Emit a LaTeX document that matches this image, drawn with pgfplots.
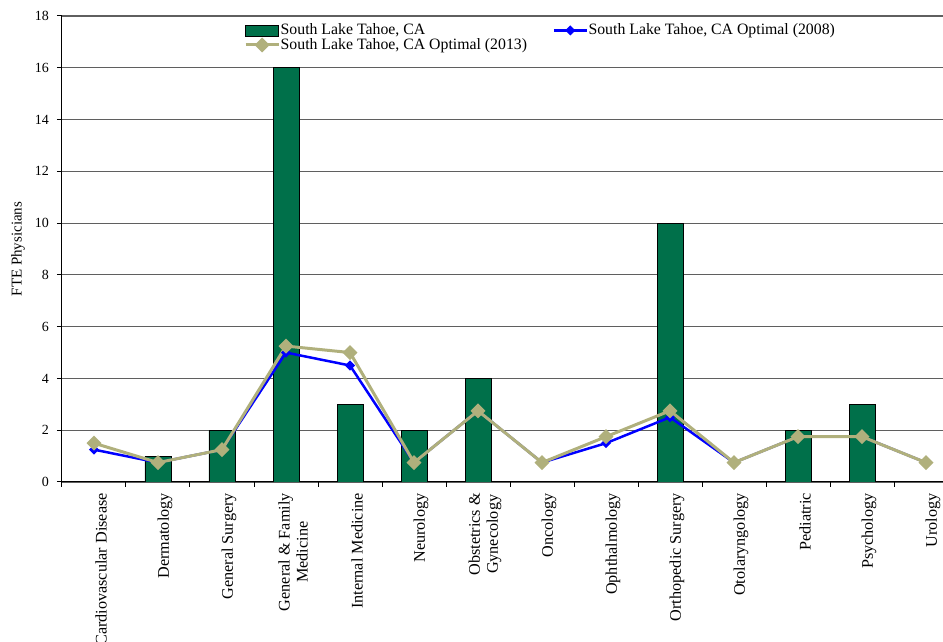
\documentclass[border=0pt]{standalone}
\usepackage{fontspec}
\setmainfont{Liberation Serif}
\usepackage{pgfplots}
\pgfplotsset{compat=1.18}
\usetikzlibrary{calc}

\definecolor{bargreen}{RGB}{0,112,74}
\definecolor{opt2013}{RGB}{176,176,124}
\definecolor{opt2008}{RGB}{0,0,255}
\definecolor{gridgray}{RGB}{95,95,95}

\pgfplotsset{
  long line legend/.style={
    legend image code/.code={\draw[mark repeat=2, mark phase=2, ##1]
      plot coordinates {(0pt,0pt) (16.5pt,0pt) (33pt,0pt)};}},
  green box legend/.style={
    legend image code/.code={\draw[fill=bargreen, draw=black, line width=0.8pt]
      (0pt,-5.5pt) rectangle (33pt,5.5pt);}},
}

\begin{document}
\fontsize{15}{17}\selectfont
\begin{tikzpicture}
\begin{axis}[
  name=ax,
  scale only axis,
  width=896pt, height=466pt,
  xmin=-0.5, xmax=13.5,
  ymin=0, ymax=18,
  axis x line=bottom, axis y line=left,
  axis line style={-, black, line width=1pt},
  ytick={0,2,...,18},
  ymajorgrids,
  major grid style={draw=gridgray, line width=1.2pt},
  xtick={0,...,13},
  xticklabels={Cardiovascular Disease, Dermatology, General Surgery,
    {General \& Family\\Medicine}, Internal Medicine, Neurology,
    {Obstetrics \&\\Gynecology}, Oncology, Ophthalmology, Orthopedic Surgery,
    Otolaryngology, Pediatric, Psychology, Urology},
  minor xtick={-0.5,0.5,...,13.5},
  major tick length=5pt, minor tick length=5pt,
  tick style={black, line width=1pt},
  major x tick style={draw=none},
  tick align=outside,
  /pgf/number format/assume math mode=true,
  xticklabel style={rotate=90, anchor=east, align=center,
    font=\fontsize{16.2}{18}\selectfont, yshift=-7pt, xshift=-1pt},
  yticklabel style={font=\fontsize{14}{15}\selectfont, xshift=-3pt},
  ylabel={FTE Physicians},
  ylabel style={at={(axis description cs:-0.049,0.5)}, anchor=center,
    font=\fontsize{15}{17}\selectfont},
  legend columns=2,
  legend cell align=left,
  legend style={at={(axis description cs:0.2031,0.985)}, anchor=north west,
    draw=none, fill=none, inner sep=0pt,
    font=\fontsize{15.8}{15}\selectfont,
    nodes={inner sep=0.5pt, text height=11pt, text depth=2.5pt},
    row sep=0pt,
    /tikz/every even column/.append style={column sep=25pt}},
]
% staffed FTE physicians per specialty (zero-staffed specialties have no bar)
\addplot[ybar, bar width=26pt, fill=bargreen, draw=black, line width=0.8pt,
  green box legend]
  coordinates {(1,1) (2,2) (3,16) (4,3) (5,2) (6,4) (9,10) (11,2) (12,3)};
\addlegendentry{South Lake Tahoe, CA}

% optimal staffing, 2008
\addplot[opt2008, line width=2.5pt, mark=square*, mark size=2.3pt,
  mark options={rotate=45, solid}, long line legend]
  coordinates {(0,1.25) (1,0.75) (2,1.25) (3,5.0) (4,4.5) (5,0.75) (6,2.75)
    (7,0.75) (8,1.5) (9,2.5) (10,0.75) (11,1.75) (12,1.75) (13,0.75)};
\addlegendentry{South Lake Tahoe, CA Optimal (2008)}

% optimal staffing, 2013
\addplot[opt2013, line width=3pt, mark=square*, mark size=3.8pt,
  mark options={rotate=45, solid}, long line legend]
  coordinates {(0,1.5) (1,0.75) (2,1.25) (3,5.25) (4,5.0) (5,0.75) (6,2.75)
    (7,0.75) (8,1.75) (9,2.75) (10,0.75) (11,1.75) (12,1.75) (13,0.75)};
\addlegendentry{South Lake Tahoe, CA Optimal (2013)}
\end{axis}
\pgfresetboundingbox
\path[use as bounding box] ($(ax.south west)+(-62pt,-160pt)$)
  rectangle ($(ax.south west)+(881pt,482pt)$);
\end{tikzpicture}
\end{document}
